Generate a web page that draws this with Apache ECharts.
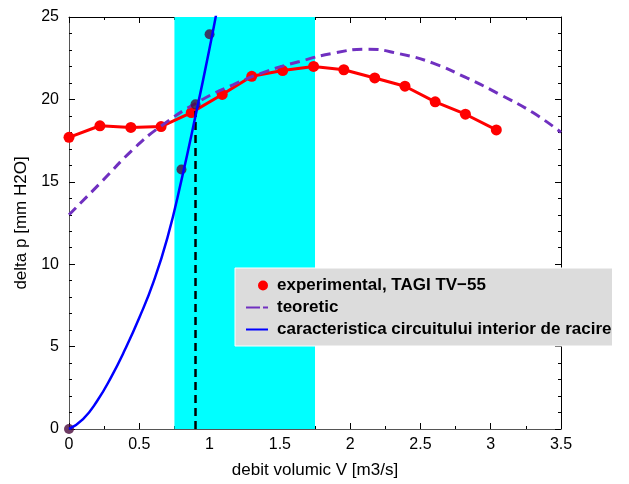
<!DOCTYPE html>
<html>
<head>
<meta charset="utf-8">
<script src="https://cdn.jsdelivr.net/npm/echarts@6/dist/echarts.min.js"></script>
<style>
  html, body { margin: 0; padding: 0; background: #ffffff; }
  #chart { width: 629px; height: 484px; }
</style>
</head>
<body>
<div id="chart"></div>
<script>
// ---- data ----
const xTicks = [0, 0.5, 1, 1.5, 2, 2.5, 3, 3.5];
const yTicks = [0, 5, 10, 15, 20, 25];

const expName = 'experimental, TAGI TV\u221255';
const theoName = 'teoretic';
const circName = 'caracteristica circuitului interior de racire';

const expX = [0, 0.22, 0.44, 0.655, 0.87, 1.09, 1.30, 1.52, 1.74, 1.955, 2.175, 2.39, 2.605, 2.82, 3.04];
const expY = [17.7, 18.4, 18.3, 18.35, 19.2, 20.3, 21.4, 21.75, 22.0, 21.8, 21.3, 20.8, 19.85, 19.1, 18.15];

const theoX = [0, 0.22, 0.46, 0.65, 0.93, 1.17, 1.405, 1.64, 1.88, 2.12, 2.35, 2.59, 2.83, 3.065, 3.3, 3.5];
const theoY = [13.0, 14.9, 17.0, 18.35, 19.9, 20.9, 21.7, 22.3, 22.8, 23.05, 22.77, 22.2, 21.3, 20.3, 19.2, 18.0];

const circX = [0, 0.1, 0.2, 0.3, 0.4, 0.5, 0.6, 0.7, 0.8, 0.9, 1.0, 1.05];
const circY = [0, 0.6, 1.7, 3.15, 4.85, 6.75, 8.9, 11.6, 15.1, 19.0, 23.1, 25.3];

const measX = [0, 0.80, 0.90, 1.0];
const measY = [0, 15.75, 19.7, 23.95];

const opX = [0.9, 0.9];
const opY = [0, 19.3];

const band = [0.75, 1.75];

// ---- helpers ----
const pairs = (xs, ys) => xs.map((x, i) => [x, ys[i]]);
const FONT = '"Liberation Sans", Arial, Helvetica, sans-serif';

const baseX = {
  type: 'value',
  min: xTicks[0],
  max: xTicks[xTicks.length - 1],
  interval: xTicks[1] - xTicks[0],
  splitLine: { show: false },
  axisTick: { inside: true, length: 6, lineStyle: { color: '#000' } },
  minorTick: { show: true, splitNumber: 2, length: 3, lineStyle: { color: '#000' } },
  axisLine: { show: true, onZero: false, lineStyle: { color: '#555', width: 1 } }
};
const baseY = {
  type: 'value',
  min: yTicks[0],
  max: yTicks[yTicks.length - 1],
  interval: yTicks[1] - yTicks[0],
  splitLine: { show: false },
  axisTick: { inside: true, length: 6, lineStyle: { color: '#000' } },
  minorTick: { show: true, splitNumber: 5, length: 3, lineStyle: { color: '#000' } },
  axisLine: { show: true, onZero: false, lineStyle: { color: '#555', width: 1 } }
};

const chart = echarts.init(document.getElementById('chart'), null, { renderer: 'canvas' });

chart.setOption({
  animation: false,
  backgroundColor: '#ffffff',
  textStyle: { fontFamily: FONT },
  grid: { left: 69, right: 68, top: 17, bottom: 51, containLabel: false },
  legend: {
    orient: 'vertical',
    left: 235,
    top: 268,
    backgroundColor: '#dcdcdc',
    borderColor: '#ffffff',
    borderWidth: 1,
    borderRadius: 0,
    padding: [9, 1, 8, 10],
    itemGap: 5,
    itemWidth: 22,
    itemHeight: 12,
    selectedMode: false,
    textStyle: { fontFamily: FONT, fontWeight: 'bold', fontSize: 17, color: '#000', padding: [0, 0, 0, 4] },
    data: [
      { name: expName, icon: 'path://M0,6A0.01,0.01,0,1,1,0.02,6ZM22,6A5,5,0,1,1,12,6A5,5,0,1,1,22,6Z' },
      { name: theoName, itemStyle: { opacity: 0 }, lineStyle: { type: [14, 3] } },
      { name: circName, itemStyle: { opacity: 0 } }
    ]
  },
  xAxis: [
    Object.assign({}, baseX, {
      position: 'bottom',
      name: 'debit volumic V [m3/s]',
      nameLocation: 'middle',
      nameGap: 33,
      nameTextStyle: { fontFamily: FONT, fontSize: 17, color: '#000' },
      axisLabel: { margin: 8, fontFamily: FONT, fontSize: 16, color: '#000' }
    }),
    Object.assign({}, baseX, {
      position: 'top',
      axisLine: { show: true, onZero: false, lineStyle: { color: '#000', width: 1 } },
      axisLabel: { show: false }
    })
  ],
  yAxis: [
    Object.assign({}, baseY, {
      position: 'left',
      name: 'delta p [mm H2O]',
      nameLocation: 'middle',
      nameGap: 35,
      nameTextStyle: { fontFamily: FONT, fontSize: 17, color: '#000' },
      axisLabel: { margin: 10, fontFamily: FONT, fontSize: 16, color: '#000' }
    }),
    Object.assign({}, baseY, {
      position: 'right',
      axisLine: { show: true, onZero: false, lineStyle: { color: '#000', width: 1 } },
      axisLabel: { show: false }
    })
  ],
  series: [
    {
      name: 'band',
      type: 'line',
      data: [],
      silent: true,
      markArea: {
        silent: true,
        itemStyle: { color: '#00ffff', opacity: 1 },
        data: [[{ xAxis: band[0] }, { xAxis: band[1] }]]
      }
    },
    {
      name: expName,
      type: 'line',
      data: pairs(expX, expY),
      symbol: 'circle',
      symbolSize: 11,
      showSymbol: true,
      showAllSymbol: true,
      itemStyle: { color: '#ff0000' },
      lineStyle: { color: '#ff0000', width: 3 },
      z: 3
    },
    {
      name: 'masuratori',
      type: 'scatter',
      data: pairs(measX, measY),
      symbol: 'circle',
      symbolSize: 10,
      itemStyle: { color: '#4a0a3c' },
      z: 4
    },
    {
      name: theoName,
      type: 'line',
      data: pairs(theoX, theoY),
      smooth: true,
      symbol: 'none',
      itemStyle: { color: '#7030c0' },
      lineStyle: { color: '#7030c0', width: 3, type: [10, 6] },
      z: 4
    },
    {
      name: circName,
      type: 'line',
      data: pairs(circX, circY),
      smooth: true,
      symbol: 'none',
      itemStyle: { color: '#0000ff' },
      lineStyle: { color: '#0000ff', width: 2.5 },
      z: 5
    },
    {
      name: 'punct functionare',
      type: 'line',
      data: pairs(opX, opY),
      symbol: 'none',
      itemStyle: { color: '#000' },
      lineStyle: { color: '#000', width: 2.5, type: [8, 5] },
      z: 4
    }
  ]
});
</script>
</body>
</html>
